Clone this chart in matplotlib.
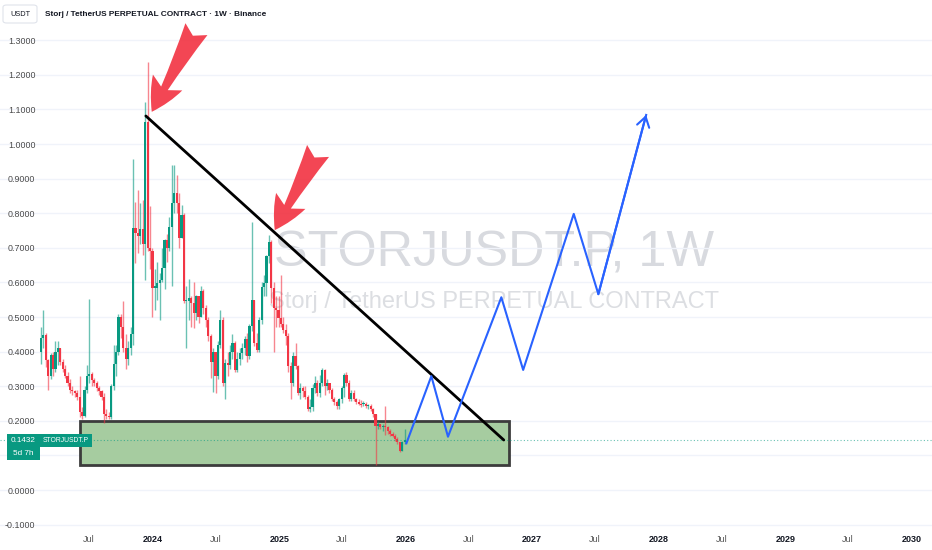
import numpy as np
import pandas as pd
import matplotlib
matplotlib.use("Agg")
import matplotlib.pyplot as plt
import matplotlib.dates as mdates
import matplotlib.transforms as mtransforms
from matplotlib.patches import Rectangle, FancyArrowPatch, FancyBboxPatch

plt.rcParams['font.family'] = ['Liberation Sans', 'DejaVu Sans']

# weekly candles, STORJUSDT.P
first_week = "2023-02-13"
first_open = 0.40
closes = [
    0.44, 0.447, 0.375, 0.33, 0.39, 0.35, 0.40, 0.41, 0.37, 0.35,
    0.33, 0.31, 0.29, 0.285, 0.28, 0.27, 0.225, 0.215, 0.29, 0.33,
    0.335, 0.318, 0.31, 0.295, 0.285, 0.27, 0.22, 0.215, 0.21, 0.30,
    0.365, 0.40, 0.50, 0.47, 0.41, 0.38, 0.41, 0.45, 0.757, 0.742,
    0.735, 0.755, 0.71, 1.065, 0.70, 0.69, 0.585, 0.585, 0.598, 0.608,
    0.641, 0.723, 0.70, 0.76, 0.83, 0.857, 0.829, 0.728, 0.795, 0.545,
    0.545, 0.555, 0.54, 0.512, 0.56, 0.50, 0.575, 0.525, 0.49, 0.445,
    0.37, 0.40, 0.33, 0.42, 0.49, 0.31, 0.367, 0.36, 0.40, 0.425,
    0.348, 0.38, 0.395, 0.41, 0.435, 0.387, 0.475, 0.55, 0.425, 0.406,
    0.49, 0.588, 0.598, 0.675, 0.718, 0.584, 0.526, 0.521, 0.497, 0.48,
    0.463, 0.444, 0.358, 0.31, 0.386, 0.357, 0.281, 0.295, 0.285, 0.27,
    0.233, 0.24, 0.295, 0.31, 0.281, 0.31, 0.348, 0.30, 0.31, 0.29,
    0.262, 0.255, 0.243, 0.262, 0.295, 0.333, 0.31, 0.262, 0.28, 0.262,
    0.255, 0.25, 0.248, 0.248, 0.243, 0.243, 0.233, 0.219, 0.186, 0.19,
    0.181, 0.186, 0.181, 0.171, 0.162, 0.157, 0.148, 0.138, 0.114, 0.138,
    0.1432]
highs = [
    0.47, 0.52, 0.455, 0.38, 0.395, 0.40, 0.43, 0.43, 0.41, 0.38,
    0.36, 0.34, 0.32, 0.30, 0.29, 0.29, 0.33, 0.24, 0.30, 0.36,
    0.552, 0.34, 0.325, 0.315, 0.30, 0.29, 0.28, 0.235, 0.225, 0.305,
    0.42, 0.42, 0.51, 0.51, 0.545, 0.45, 0.43, 0.47, 0.958, 0.833,
    0.867, 0.83, 0.838, 1.121, 1.236, 0.82, 0.70, 0.64, 0.66, 0.627,
    0.70, 0.725, 0.74, 0.79, 0.939, 0.939, 0.91, 0.857, 0.824, 0.80,
    0.59, 0.61, 0.56, 0.60, 0.565, 0.56, 0.59, 0.58, 0.535, 0.50,
    0.45, 0.41, 0.40, 0.43, 0.521, 0.50, 0.38, 0.40, 0.42, 0.45,
    0.43, 0.40, 0.41, 0.425, 0.445, 0.455, 0.48, 0.776, 0.55, 0.454,
    0.50, 0.60, 0.62, 0.68, 0.738, 0.723, 0.60, 0.56, 0.56, 0.622,
    0.50, 0.48, 0.454, 0.37, 0.40, 0.424, 0.36, 0.31, 0.30, 0.30,
    0.276, 0.262, 0.305, 0.33, 0.319, 0.333, 0.352, 0.35, 0.32, 0.31,
    0.295, 0.27, 0.26, 0.267, 0.30, 0.338, 0.34, 0.319, 0.29, 0.29,
    0.267, 0.262, 0.26, 0.257, 0.255, 0.25, 0.248, 0.238, 0.219, 0.20,
    0.19, 0.19, 0.243, 0.186, 0.176, 0.167, 0.162, 0.152, 0.138, 0.143,
    0.176]
lows = [
    0.365, 0.41, 0.355, 0.29, 0.32, 0.33, 0.34, 0.36, 0.36, 0.34,
    0.325, 0.30, 0.28, 0.275, 0.27, 0.26, 0.21, 0.205, 0.21, 0.28,
    0.31, 0.30, 0.30, 0.285, 0.275, 0.26, 0.194, 0.205, 0.205, 0.205,
    0.29, 0.33, 0.39, 0.44, 0.40, 0.35, 0.36, 0.39, 0.42, 0.655,
    0.685, 0.71, 0.68, 0.608, 0.69, 0.64, 0.50, 0.52, 0.55, 0.49,
    0.60, 0.58, 0.66, 0.69, 0.589, 0.80, 0.80, 0.70, 0.728, 0.54,
    0.411, 0.49, 0.47, 0.468, 0.49, 0.483, 0.50, 0.51, 0.47, 0.43,
    0.325, 0.282, 0.28, 0.32, 0.41, 0.30, 0.262, 0.33, 0.35, 0.38,
    0.34, 0.34, 0.36, 0.38, 0.39, 0.37, 0.38, 0.46, 0.415, 0.40,
    0.40, 0.48, 0.56, 0.56, 0.656, 0.54, 0.40, 0.47, 0.47, 0.47,
    0.454, 0.42, 0.34, 0.262, 0.30, 0.35, 0.276, 0.262, 0.27, 0.262,
    0.229, 0.224, 0.229, 0.28, 0.271, 0.27, 0.30, 0.276, 0.29, 0.28,
    0.257, 0.245, 0.235, 0.233, 0.252, 0.27, 0.30, 0.257, 0.257, 0.257,
    0.25, 0.245, 0.24, 0.243, 0.238, 0.233, 0.229, 0.21, 0.071, 0.176,
    0.176, 0.171, 0.16, 0.162, 0.157, 0.152, 0.143, 0.133, 0.111, 0.114,
    0.133]
last_price = 0.1432
countdown = "5d 7h"

# drawings on the chart
zone_dates = ["2023-06-06", "2026-10-26"]
zone_prices = [0.072, 0.2]
trend_dates = ["2023-12-13", "2026-10-11"]
trend_prices = [1.081, 0.1445]
path_dates = ["2026-01-03", "2026-03-16", "2026-05-03", "2026-10-04",
              "2026-12-06", "2027-05-01", "2027-07-11", "2027-11-26"]
path_prices = [0.135, 0.329, 0.154, 0.557, 0.347, 0.798, 0.566, 1.084]
arrow_tails = [("2024-05-07", 1.332), ("2025-04-23", 0.98)]
arrow_tips = [("2023-12-30", 1.093), ("2024-12-19", 0.751)]

y_ticks = [-0.1, 0.0, 0.1, 0.2, 0.3, 0.4, 0.5, 0.6, 0.7, 0.8, 0.9, 1.0, 1.1, 1.2, 1.3]
hidden_y_tick = 0.1   # sits under the last-price tag
x_tick_dates = ["2023-07-01", "2024-01-01", "2024-07-01", "2025-01-01", "2025-07-01",
                "2026-01-01", "2026-07-01", "2027-01-01", "2027-07-01", "2028-01-01",
                "2028-07-01", "2029-01-01", "2029-07-01", "2030-01-01"]
x_tick_labels = ["Jul", "2024", "Jul", "2025", "Jul", "2026", "Jul", "2027",
                 "Jul", "2028", "Jul", "2029", "Jul", "2030"]

UP = "#089981"
DOWN = "#f23645"


def dn(d):
    return mdates.date2num(pd.Timestamp(d))


closes = np.array(closes)
opens = np.concatenate([[first_open], closes[:-1]])
weeks = mdates.date2num(pd.date_range(first_week, periods=len(closes), freq="7D"))
up = closes >= opens
colors = np.where(up, UP, DOWN)
body = closes - opens
body = np.where(np.abs(body) < 0.004, np.where(up, 0.004, -0.004), body)

fig = plt.figure(figsize=(9.32, 5.5), dpi=100)
renderer = fig.canvas.get_renderer()


def fit(t, target_px):
    # the screenshot is squeezed sideways, so size text by its width
    w = t.get_window_extent(renderer).width
    t.set_fontsize(t.get_fontsize() * target_px / w)
    return t


def fitted_size(text, target_px, **kw):
    t = fig.text(0, 0, text, fontsize=10, **kw)
    size = 10 * target_px / t.get_window_extent(renderer).width
    t.remove()
    return size


ax = fig.add_axes([0, 20 / 550, 1, 530 / 550])
ax.set_xlim(dn("2022-10-18"), dn("2030-02-28"))
ax.set_ylim(-0.1156, 1.4162)
for s in ax.spines.values():
    s.set_visible(False)

ylab_size = fitted_size("1.3000", 27)
xlab_size = fitted_size("2024", 20, fontweight="bold")

ax.set_axisbelow(True)
ax.set_yticks(y_ticks)
ax.set_yticklabels(["" if abs(v - hidden_y_tick) < 1e-9 else f"{v:.4f}" for v in y_ticks])
ax.grid(axis="y", color="#f0f3fa", lw=1)
ax.tick_params(axis="y", direction="in", length=0, pad=-25.5, labelsize=ylab_size,
               labelcolor="#4a4a4a")
ax.set_xticks([dn(d) for d in x_tick_dates])
ax.set_xticklabels(x_tick_labels)
ax.tick_params(axis="x", length=0, pad=3.5, labelsize=xlab_size)
for lab in ax.get_xticklabels():
    if lab.get_text() == "Jul":
        lab.set_color("#555555")
    else:
        lab.set_color("#131722")
        lab.set_fontweight("bold")

# watermark
fit(ax.text(0.530, 0.498, "STORJUSDT.P, 1W", transform=ax.transAxes, ha="center",
            va="baseline", fontsize=40, color="#d8dadf", zorder=0.5), 440)
fit(ax.text(0.530, 0.419, "Storj / TetherUS PERPETUAL CONTRACT", transform=ax.transAxes,
            ha="center", va="baseline", fontsize=20, color="#dcdee2", zorder=0.5), 450)

# support zone
z0, z1 = dn(zone_dates[0]), dn(zone_dates[1])
ax.add_patch(Rectangle((z0, zone_prices[0]), z1 - z0, zone_prices[1] - zone_prices[0],
                       facecolor="#a6cca0", edgecolor="#3c3c3c", lw=2, zorder=1))

# candles
ax.vlines(weeks, lows, highs, colors=colors, lw=1, alpha=0.6, zorder=2)
ax.bar(weeks, body, bottom=opens, width=6.2, color=colors, lw=0, zorder=3)

# last price line
ax.axhline(last_price, color=UP, lw=0.8, ls=(0, (1, 2)), alpha=0.6, zorder=3.5)

# trend line
ax.plot([dn(d) for d in trend_dates], trend_prices, color="black", lw=2,
        solid_capstyle="round", zorder=4)

# projected path
px = [dn(d) for d in path_dates]
ax.plot(px, path_prices, color="#2962ff", lw=1.5, zorder=4)
ax.annotate("", xy=(px[-1], path_prices[-1]), xytext=(px[-2], path_prices[-2]),
            arrowprops=dict(arrowstyle="->,head_length=0.7,head_width=0.45",
                            color="#2962ff", lw=1.5, shrinkA=0, shrinkB=0), zorder=4)

# red arrows
for (td, tp), (hd, hp) in zip(arrow_tails, arrow_tips):
    ax.add_patch(FancyArrowPatch((dn(td), tp), (dn(hd), hp),
                                 arrowstyle="fancy,head_length=0.6,head_width=0.6,tail_width=0.45",
                                 mutation_scale=40, color=DOWN, alpha=0.92,
                                 shrinkA=0, shrinkB=0, lw=0, zorder=5))

# price tags on the left
blend = mtransforms.blended_transform_factory(ax.transAxes, ax.transData)
ax.add_patch(Rectangle((7 / 932, 0.086), 33 / 932, 0.0758, transform=blend,
                       facecolor=UP, lw=0, zorder=10))
ax.add_patch(Rectangle((40 / 932, 0.1243), 52 / 932, 0.0375, transform=blend,
                       facecolor=UP, lw=0, zorder=10))
tag_size = fitted_size("0.1432", 25)
ax.text(23.5 / 932, last_price, f"{last_price:.4f}", transform=blend, ha="center",
        va="center", fontsize=tag_size, color="white", zorder=11)
ax.text(23.5 / 932, 0.106, countdown, transform=blend, ha="center", va="center",
        fontsize=tag_size, color="white", zorder=11)
fit(ax.text(66 / 932, last_price, "STORJUSDT.P", transform=blend, ha="center",
            va="center", fontsize=7, color="white", zorder=11), 46)

# header
fig.patches.append(FancyBboxPatch((3 / 932, 1 - 23 / 550), 34 / 932, 18 / 550,
                                  boxstyle="round,pad=0,rounding_size=0.004",
                                  transform=fig.transFigure, facecolor="white",
                                  edgecolor="#e0e3eb", lw=0.8))
fit(fig.text(20 / 932, 1 - 14 / 550, "USDT", ha="center", va="center", fontsize=7,
             color="#131722"), 20)
fit(fig.text(45 / 932, 1 - 14 / 550, "Storj / TetherUS PERPETUAL CONTRACT \u00b7 1W \u00b7 Binance",
             ha="left", va="center", fontsize=7, fontweight="bold", color="#131722"), 222)

fig.savefig("out.png", dpi=100)
